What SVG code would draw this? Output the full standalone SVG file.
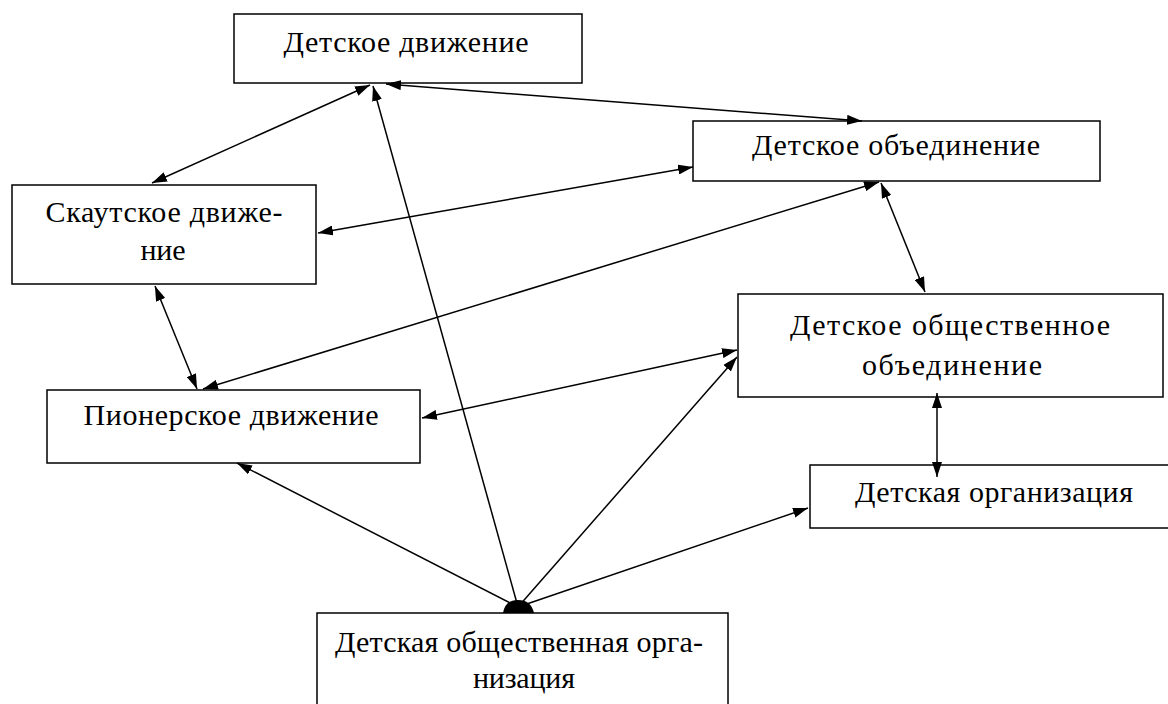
<svg xmlns="http://www.w3.org/2000/svg" width="1168" height="704" viewBox="0 0 1168 704">
<defs>
<marker id="ah" viewBox="0 0 15 10" refX="15" refY="5" markerWidth="15" markerHeight="10" markerUnits="userSpaceOnUse" orient="auto-start-reverse">
<path d="M0,0 L15,5 L0,10 z" fill="#000"/>
</marker>
<style>
.box{fill:#fff;stroke:#000;stroke-width:1.5}
.t{font-family:'Times New Roman',Times,'Liberation Serif','DejaVu Serif',serif;font-size:30px;fill:#000;text-anchor:middle}
.c{stroke:#000;stroke-width:1.5;fill:none}
.d{marker-start:url(#ah);marker-end:url(#ah)}
.s{marker-end:url(#ah)}
</style>
</defs>
<rect width="1168" height="704" fill="#fff"/>
<g id="n-detskoe-dvizhenie"><rect class="box" x="234" y="14" width="348" height="69"/><text class="t" x="406" y="52" textLength="245">Детское движение</text></g>
<g id="n-detskoe-obedinenie"><rect class="box" x="693" y="121" width="407" height="60"/><text class="t" x="896" y="155" textLength="288">Детское объединение</text></g>
<g id="n-skautskoe"><rect class="box" x="12" y="185" width="304" height="99"/><text class="t" x="164" y="222" textLength="237">Скаутское движе-</text><text class="t" x="163" y="260" textLength="45">ние</text></g>
<g id="n-pionerskoe"><rect class="box" x="47" y="390" width="373" height="73"/><text class="t" x="231" y="425" textLength="295">Пионерское движение</text></g>
<g id="n-doo"><rect class="box" x="738" y="294" width="425" height="103"/><text class="t" x="950" y="335" textLength="320">Детское общественное</text><text class="t" x="952" y="375" textLength="180">объединение</text></g>
<g id="n-detskaya-org"><rect class="box" x="810" y="465" width="370" height="63"/><text class="t" x="994" y="502" textLength="278">Детская организация</text></g>
<g id="n-dodo"><rect class="box" x="317" y="613" width="411" height="100"/><text class="t" x="519" y="652" textLength="368">Детская общественная орга-</text><text class="t" x="524" y="688" textLength="102">низация</text></g>
<g id="connectors">
<line class="c d" x1="152" y1="183" x2="370" y2="85"/>
<line class="c d" x1="386" y1="84" x2="862" y2="121"/>
<line class="c d" x1="693" y1="167" x2="318" y2="233"/>
<line class="c d" x1="203" y1="389" x2="879" y2="182"/>
<line class="c d" x1="881" y1="183" x2="925" y2="292"/>
<line class="c d" x1="422" y1="418" x2="737" y2="350"/>
<line class="c d" x1="937" y1="393" x2="937" y2="477"/>
<line class="c d" x1="155" y1="286" x2="197" y2="389"/>
<line class="c s" x1="518" y1="607" x2="237" y2="463"/>
<line class="c s" x1="518" y1="607" x2="373" y2="86"/>
<line class="c s" x1="518" y1="607" x2="737" y2="357"/>
<line class="c s" x1="518" y1="607" x2="808" y2="508"/>
<path d="M503,613 Q505,600 518,600 Q531,600 534,613 z" fill="#000"/>
</g>
</svg>
